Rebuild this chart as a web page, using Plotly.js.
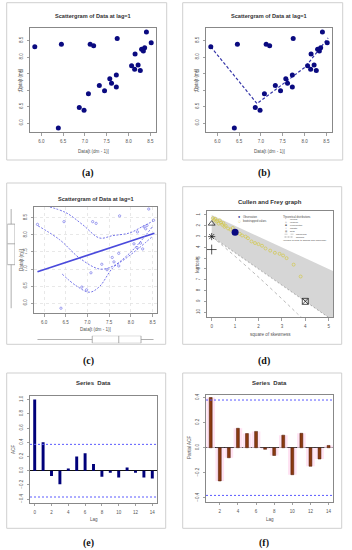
<!DOCTYPE html>
<html><head><meta charset="utf-8">
<script src="https://cdn.plot.ly/plotly-3.0.1.min.js"></script>
<style>html,body{margin:0;padding:0;background:#fff;}#chart{width:352px;height:550px;}</style>
</head><body><div id="chart"></div>
<script>
// ---------- data ----------
// lag scattergram: Data[t-1] (x) vs Data[t] (y)
const lagX = [5.85,6.46,7.12,7.20,7.74,8.41,8.52,8.37,8.30,8.34,8.15,8.07,8.14,8.22,8.27,7.72,7.57,7.61,7.33,7.45,7.72,7.08,6.87,6.98,6.39];
const lagY = [8.31,8.39,8.39,8.34,8.56,8.76,8.43,8.28,8.24,8.18,8.09,7.74,7.63,7.76,7.59,7.46,7.34,7.21,7.14,6.98,7.09,6.89,6.47,6.39,5.85];
const scatTicks = [6.0,6.5,7.0,7.5,8.0,8.5];
// (b) dashed fit line
const fitBX = [5.85,6.91,7.34,8.02,8.54];
const fitBY = [8.31,6.59,7.02,7.70,8.58];
// (c) regression line and smoother with spread
const regX = [5.85,8.54];
const regY = [6.92,8.05];
const smoothX = [5.86,6.36,6.82,7.28,7.58,7.89,8.19,8.50];
const smoothY = [8.27,7.86,7.32,7.00,7.08,7.37,7.76,8.25];
const upperX = [6.05,6.51,6.89,7.28,7.58,7.97,8.27,8.50];
const upperY = [8.85,8.65,8.30,7.91,7.98,8.06,8.25,8.40];
const lowerX = [6.42,6.74,7.05,7.28,7.58,7.89,8.19,8.50];
const lowerY = [6.85,6.51,6.32,6.49,7.03,7.32,7.62,7.96];
// (d) Cullen and Frey
const obsS2 = [1.0], obsK = [2.59];
const bootS2 = [0.05,0.1,0.15,0.2,0.25,0.3,0.35,0.4,0.45,0.5,0.55,0.6,0.7,0.8,0.9,1.05,1.2,1.3,1.45,1.55,1.7,1.85,2.0,2.15,2.3,2.5,2.7,2.9,3.05,3.2,3.5,3.8];
const bootK  = [1.3,1.45,1.35,1.6,1.55,1.8,1.5,1.7,1.9,1.75,2.1,2.0,2.25,2.35,2.2,2.5,2.75,2.9,3.0,3.15,3.45,3.6,3.7,3.85,4.1,4.3,4.5,4.6,4.75,5.0,5.6,6.7];
const betaX = [0,5.6,5.6,0];
const betaY = [1,6.6,11.4,3];
const lognX = [0,0.465,0.961,2.048,3.267,3.66,3.9];
const lognY = [3,3.838,4.756,6.85,9.32,10.14,10.6];
const gammaX = [0,5.2];
const gammaY = [3,10.8];
const theoNames = ['normal','uniform','exponential','logistic'];
const theoS2 = [0,0,4,0];
const theoK = [3,1.8,9,4.2];
const cfXTicks = [0,1,2,3,4,5];
const cfYTicks = [1,2,3,4,5,6,7,8,9,10];
// (e) ACF
const acfLags = [0,1,2,3,4,5,6,7,8,9,10,11,12,13,14];
const acfVals = [1.0,0.40,-0.075,-0.19,0.03,0.20,0.245,0.095,-0.085,-0.03,-0.095,0.045,-0.03,-0.095,-0.11];
const acfCI = 0.37;
// (f) PACF
const pacfLags = [1,2,3,4,5,6,7,8,9,10,11,12,13,14];
const pacfVals = [0.40,-0.265,-0.08,0.155,0.113,0.13,-0.013,-0.062,0.10,-0.215,0.115,-0.148,-0.09,0.018];
const pacfCI = 0.38;

// ---------- helpers ----------
const W = 352, H = 550;
const px = v => v / W;
const py = v => 1 - v / H;
const F = 'Liberation Sans, Arial, sans-serif';
const base = {showline:true, mirror:true, linecolor:'#888', linewidth:1, ticks:'outside', ticklen:2.5,
  tickwidth:0.8, tickcolor:'#888', tickfont:{size:4.5, color:'#555', family:F}, showgrid:false,
  zeroline:false, fixedrange:true, ticklabelstandoff:2};
const mk = o => Object.assign({}, base, o);
const hidden = o => Object.assign({visible:false, fixedrange:true}, o);

const navy = '#0a0a80';
const cBlue = '#6464e6';

const traces = [
  // (a)
  {x:lagX, y:lagY, type:'scatter', mode:'markers', xaxis:'x', yaxis:'y', marker:{color:navy, size:5}},
  // (b)
  {x:fitBX, y:fitBY, type:'scatter', mode:'lines', xaxis:'x2', yaxis:'y2', line:{color:'#3535a8', width:1.2, dash:'3px,2px'}},
  {x:lagX, y:lagY, type:'scatter', mode:'markers', xaxis:'x2', yaxis:'y2', marker:{color:navy, size:5}},
  // (c)
  {x:lagX, y:lagY, type:'scatter', mode:'markers', xaxis:'x3', yaxis:'y3', marker:{color:cBlue, size:2.3, symbol:'circle-open', line:{width:0.6}}},
  {x:regX, y:regY, type:'scatter', mode:'lines', xaxis:'x3', yaxis:'y3', line:{color:'#4a4adc', width:1.7}},
  {x:smoothX, y:smoothY, type:'scatter', mode:'lines', xaxis:'x3', yaxis:'y3', line:{color:cBlue, width:0.9, dash:'2px,1.5px', shape:'spline'}},
  {x:upperX, y:upperY, type:'scatter', mode:'lines', xaxis:'x3', yaxis:'y3', line:{color:cBlue, width:0.9, dash:'2px,1.5px', shape:'spline'}},
  {x:lowerX, y:lowerY, type:'scatter', mode:'lines', xaxis:'x3', yaxis:'y3', line:{color:cBlue, width:0.9, dash:'2px,1.5px', shape:'spline'}},
  {y:lagY, x0:0, type:'box', xaxis:'x7', yaxis:'y7', width:1, boxpoints:false, whiskerwidth:0,
    line:{color:'#999', width:0.8}, fillcolor:'#fff'},
  {x:lagX, y0:0, type:'box', orientation:'h', xaxis:'x8', yaxis:'y8', width:1, boxpoints:false, whiskerwidth:0,
    line:{color:'#999', width:0.8}, fillcolor:'#fff'},
  // (d)
  {x:betaX, y:betaY, type:'scatter', mode:'lines', fill:'toself', fillcolor:'#d6d6d6', line:{width:0, color:'#d6d6d6'}, xaxis:'x4', yaxis:'y4'},
  {x:lognX, y:lognY, type:'scatter', mode:'lines', line:{color:'#b8b8b8', width:1, dash:'dot', shape:'spline'}, xaxis:'x4', yaxis:'y4'},
  {x:gammaX, y:gammaY, type:'scatter', mode:'lines', line:{color:'#999', width:0.8, dash:'2px,2px'}, xaxis:'x4', yaxis:'y4'},
  {x:bootS2, y:bootK, type:'scatter', mode:'markers', marker:{symbol:'circle-open', size:3, color:'#d2c84a', line:{width:0.7}}, xaxis:'x4', yaxis:'y4'},
  {x:obsS2, y:obsK, type:'scatter', mode:'markers', marker:{size:7, color:navy}, xaxis:'x4', yaxis:'y4'},
  {x:theoS2, y:theoK, type:'scatter', mode:'markers', xaxis:'x4', yaxis:'y4', cliponaxis:false,
    marker:{symbol:['asterisk-open','triangle-up-open','square-x-open','cross-thin-open'], size:[6,6,6,7], color:'#111', line:{width:1, color:'#111'}}},
  // (e)
  {x:acfLags, y:acfVals, type:'bar', width:0.35, marker:{color:'#00007a', line:{width:0}}, xaxis:'x5', yaxis:'y5'},
  // (f)
  {x:pacfLags, y:pacfVals, type:'bar', width:0.95, marker:{color:'#ffe3f3', line:{width:0}}, xaxis:'x6', yaxis:'y6'},
  {x:pacfLags, y:pacfVals, type:'bar', width:0.32, marker:{color:'#8a3a10', line:{width:0.5, color:'#4a1a05'}}, xaxis:'x6', yaxis:'y6'}
];

const ann = [];
function T(x, y, text, size, opts) {
  ann.push(Object.assign({xref:'paper', yref:'paper', x:px(x), y:py(y), text:text, showarrow:false, borderpad:0,
    xanchor:'center', yanchor:'middle', font:{size:size, color:'#333', family:F}}, opts || {}));
}
// titles
T(93, 16, '<b>Scattergram of Data at lag=1</b>', 5.6);
T(269, 16, '<b>Scattergram of Data at lag=1</b>', 5.6);
T(95.5, 199, '<b>Scattergram of Data at lag=1</b>', 5.6);
T(270, 201.7, '<b>Cullen and Frey graph</b>', 6);
T(93.5, 383.3, '<b>Series  Data</b>', 6);
T(269.5, 383.3, '<b>Series  Data</b>', 6);
// axis titles
const lab = {font:{size:4.6, color:'#555', family:F}};
T(93, 151.7, 'Data[t (dm - 1)]', 4.6, lab);
T(20, 80, 'Data[t (m)]', 4.6, Object.assign({textangle:-90}, lab));
T(269, 151.7, 'Data[t (dm - 1)]', 4.6, lab);
T(196, 80, 'Data[t (m)]', 4.6, Object.assign({textangle:-90}, lab));
T(95.5, 329, 'Data[t (dm - 1)]', 4.6, lab);
T(22, 260, 'Data[t (m)]', 4.6, Object.assign({textangle:-90}, lab));
T(270, 334, 'square of skewness', 4.6, lab);
T(196.7, 264, 'kurtosis', 4.6, Object.assign({textangle:-90}, lab));
T(93.5, 519.3, 'Lag', 4.8, lab);
T(13, 450, 'ACF', 4.8, Object.assign({textangle:-90}, lab));
T(269.5, 519.3, 'Lag', 4.8, lab);
T(189, 448, 'Partial ACF', 4.8, Object.assign({textangle:-90}, lab));
// panel labels
const pl = {font:{size:10, color:'#111', family:'Liberation Serif, Times New Roman, serif'}};
T(88.3, 173.3, '<b>(a)</b>', 10, pl);
T(264.3, 173.3, '<b>(b)</b>', 10, pl);
T(88.3, 361, '<b>(c)</b>', 10, pl);
T(264.3, 361, '<b>(d)</b>', 10, pl);
T(88.3, 542.7, '<b>(e)</b>', 10, pl);
T(264.3, 542.7, '<b>(f)</b>', 10, pl);
// legend of (d)
const lg = {xanchor:'left', font:{size:2.6, color:'#444', family:F}};
T(236.5, 217.0, '●', 3.6, {xanchor:'left', font:{size:3.6, color:navy, family:F}});
T(241.5, 217.0, 'Observation', 2.6, lg);
T(236.5, 220.6, '○', 3.2, {xanchor:'left', font:{size:3.2, color:'#c9bd3a', family:'DejaVu Sans'}});
T(241.5, 220.6, 'bootstrapped values', 2.6, lg);
T(282, 216.8, 'Theoretical distributions', 2.6, lg);
const sym = ['*','△','⊠','+','■'];
const names = ['normal','uniform','exponential','logistic','beta'];
const lg2 = {xanchor:'left', font:{size:2.4, color:'#444', family:F}};
for (let i = 0; i < 5; i++) {
  const yy = 219.9 + i * 2.85;
  T(284.3, yy, sym[i], 2.4, {xanchor:'left', font:{size:2.4, color: i===4 ? '#aaa' : '#222', family:'DejaVu Sans'}});
  T(288.6, yy, names[i], 2.4, lg2);
}
T(294.5, 234.2, 'lognormal', 2.4, lg2);
T(294.5, 237.0, 'gamma', 2.4, lg2);
T(282.3, 239.8, '(Weibull is close to gamma and lognormal)', 2.3, {xanchor:'left', font:{size:2.3, color:'#444', family:F}});

const shapes = [];
// frames
[[6.7,2.7,166.7,160],[182.7,2.7,342.7,160],[6.7,183,165.7,344.3],[182.7,186.7,341.7,344.3],[6.7,373,165.7,528.3],[182.7,373,341.7,528.3]]
  .forEach(r => shapes.push({type:'rect', xref:'paper', yref:'paper', x0:px(r[0]), x1:px(r[2]), y0:py(r[3]), y1:py(r[1]),
    line:{color:'#cfcfcf', width:1}, fillcolor:'rgba(0,0,0,0)', layer:'below'}));
// legend line samples in (d)
shapes.push({type:'line', xref:'paper', yref:'paper', x0:px(284.5), x1:px(293.5), y0:py(234.2), y1:py(234.2), line:{color:'#bbb', width:0.7, dash:'dot'}});
shapes.push({type:'line', xref:'paper', yref:'paper', x0:px(284.5), x1:px(293.5), y0:py(237.0), y1:py(237.0), line:{color:'#888', width:0.7, dash:'2px,1px'}});
// confidence lines
const ciLine = {color:'#5a5aff', width:1, dash:'2px,2px'};
[acfCI, -acfCI].forEach(v => shapes.push({type:'line', xref:'x5 domain', x0:0, x1:1, yref:'y5', y0:v, y1:v, line:ciLine}));
[pacfCI, -pacfCI].forEach(v => shapes.push({type:'line', xref:'x6 domain', x0:0, x1:1, yref:'y6', y0:v, y1:v, line:ciLine}));

const fmt1 = {tickformat:'.1f'};
const layout = {
  width:W, height:H, margin:{l:0,r:0,t:0,b:0}, paper_bgcolor:'#fff', plot_bgcolor:'#fff',
  showlegend:false, barmode:'overlay', font:{family:F},
  xaxis: mk(Object.assign({domain:[px(30),px(156)], range:[5.74,8.63], anchor:'y', tickvals:scatTicks}, fmt1)),
  yaxis: mk(Object.assign({domain:[py(132),py(28)], range:[5.73,8.88], anchor:'x', tickvals:scatTicks, tickangle:-90}, fmt1)),
  xaxis2: mk(Object.assign({domain:[px(206),px(332)], range:[5.74,8.63], anchor:'y2', tickvals:scatTicks}, fmt1)),
  yaxis2: mk(Object.assign({domain:[py(132),py(28)], range:[5.73,8.88], anchor:'x2', tickvals:scatTicks, tickangle:-90}, fmt1)),
  xaxis3: mk(Object.assign({domain:[px(34),px(157)], range:[5.77,8.6], anchor:'y3', tickvals:scatTicks, showgrid:true, gridcolor:'#e2e2e2', griddash:'dot', gridwidth:0.8}, fmt1)),
  yaxis3: mk(Object.assign({domain:[py(313),py(207)], range:[5.71,8.82], anchor:'x3', tickvals:scatTicks, tickangle:-90, showgrid:true, gridcolor:'#e2e2e2', griddash:'dot', gridwidth:0.8}, fmt1)),
  xaxis7: hidden({domain:[px(7.3),px(15)], range:[-0.5,0.5], anchor:'y7'}),
  yaxis7: hidden({domain:[py(313),py(207)], range:[5.71,8.82], anchor:'x7'}),
  xaxis8: hidden({domain:[px(34),px(157)], range:[5.77,8.6], anchor:'y8'}),
  yaxis8: hidden({domain:[py(343.3),py(335.7)], range:[-0.5,0.5], anchor:'x8'}),
  xaxis4: mk({domain:[px(207),px(333.4)], range:[-0.2,5.2], anchor:'y4', tickvals:cfXTicks}),
  yaxis4: mk({domain:[py(317),py(211)], range:[10.45,0.63], anchor:'x4', tickvals:cfYTicks, tickangle:-90}),
  xaxis5: mk({domain:[px(30),px(157)], range:[-0.56,14.56], anchor:'y5', tickvals:[0,2,4,6,8,10,12,14]}),
  yaxis5: mk(Object.assign({domain:[py(502.7),py(396)], range:[-0.45,1.05], anchor:'x5', tickvals:[-0.4,-0.2,0,0.2,0.4,0.6,0.8,1.0], tickangle:-90, zeroline:true, zerolinecolor:'#111', zerolinewidth:1}, fmt1)),
  xaxis6: mk({domain:[px(206),px(333.3)], range:[0.48,14.52], anchor:'y6', tickvals:[2,4,6,8,10,12,14]}),
  yaxis6: mk(Object.assign({domain:[py(501.7),py(395)], range:[-0.43,0.42], anchor:'x6', tickvals:[-0.4,-0.2,0,0.2,0.4], tickangle:-90, zeroline:true, zerolinecolor:'#111', zerolinewidth:1}, fmt1)),
  annotations: ann,
  shapes: shapes
};
Plotly.newPlot('chart', traces, layout, {staticPlot:true, displayModeBar:false});
</script>
</body></html>
